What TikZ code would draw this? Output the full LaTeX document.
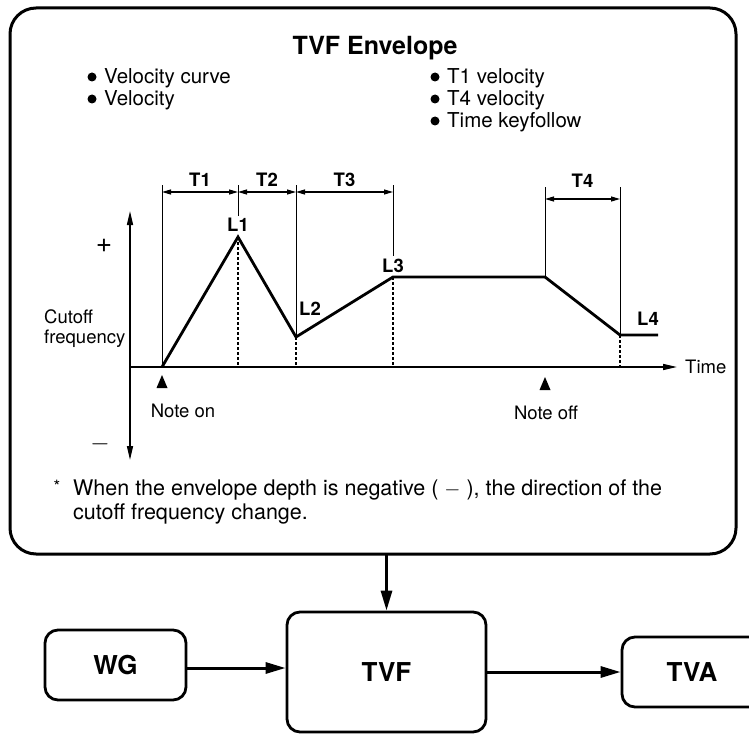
\documentclass[tikz,border=0pt]{standalone}
\usepackage{fontspec}
\setmainfont{TeX Gyre Heros}
\usetikzlibrary{arrows.meta}
\usetikzlibrary{positioning}
\tikzstyle{frame}=[draw,line width=3pt,rounded corners=26pt]
\tikzstyle{unit}=[draw,line width=2.8pt,rounded corners=13pt,font=\fontsize{26}{30}\selectfont\bfseries]
\tikzstyle{flow}=[line width=3pt,-{Triangle[length=20pt,width=11pt]}]
\tikzstyle{axis}=[line width=1.5pt,-{Triangle[length=14pt,width=6pt]}]
\tikzstyle{env}=[line width=2.8pt,line join=miter]
\tikzstyle{guide}=[line width=1pt]
\tikzstyle{drop}=[line width=1.6pt,dash pattern=on 3pt off 2pt]
\tikzstyle{span}=[line width=1.2pt,{Triangle[length=9pt,width=5pt]}-{Triangle[length=9pt,width=5pt]}]
\tikzstyle{txt}=[font=\fontsize{21.5}{24}\selectfont,inner sep=0pt]
\tikzstyle{item}=[font=\fontsize{20.5}{24}\selectfont,inner sep=0pt,anchor=base west]
\tikzstyle{small}=[font=\fontsize{18.5}{20}\selectfont,inner sep=0pt]
\tikzstyle{lbl}=[font=\fontsize{18.5}{20}\selectfont\bfseries,inner sep=0pt]
\begin{document}
\begin{tikzpicture}[x=1pt,y=-1pt]
	\useasboundingbox (0,0) rectangle (749,733);
	\draw[frame] (10,8) rectangle (736,554);
	\node[font=\fontsize{25}{30}\selectfont\bfseries,inner sep=0pt,anchor=base] (title) at (375,55) {TVF Envelope};
	\node[item] (vc)  at (104,84)  {Velocity curve};
	\node[item] (vel) at (104,106) {Velocity};
	\node[item] (t1v) at (447,84)  {T1 velocity};
	\node[item] (t4v) at (447,106) {T4 velocity};
	\node[item] (tkf) at (447,128) {Time keyfollow};
	\foreach \n in {vc,vel,t1v,t4v,tkf}
		\fill ([xshift=-12pt,yshift=7pt]\n.base west) circle (4.5pt);
	% envelope points
	\coordinate (o)  at (130,367);
	\coordinate (on) at (162,367);
	\coordinate (l1) at (238,237);
	\coordinate (l2) at (296,337);
	\coordinate (l3) at (393,277);
	\coordinate (off) at (545,277);
	\coordinate (l4) at (620,335);
	\coordinate (end) at (658,335);
	% axes
	\draw[axis] (o) -- (677,367) coordinate (tx);
	\draw[axis] (o) -- (130,211) coordinate (up);
	\draw[axis] (o) -- (130,460) coordinate (dn);
	\node[small,anchor=west] (time) at ([xshift=8pt]tx) {Time};
	\node[font=\fontsize{28}{28}\selectfont,inner sep=0pt] (plus) at (104,246) {+};
	\node[font=\fontsize{28}{28}\selectfont,inner sep=0pt] (minus) at (100,444) {$-$};
	\node[small,anchor=base west] (cut) at (44,323) {Cutoff};
	\node[small,anchor=base west] (freq) at (44,343) {frequency};
	% envelope
	\draw[env] (on) -- (l1) -- (l2) -- (l3) -- (off) -- (l4) -- (end);
	\foreach \p in {l1,l2,l3,l4} \draw[drop] (\p) -- (\p |- o);
	% time spans
	\draw[guide] (on) -- (162,185);
	\draw[guide] (238,216) -- (238,185);
	\draw[guide] (l2) -- (296,185);
	\draw[guide] (393,256) -- (393,185);
	\draw[guide] (off) -- (545,187);
	\draw[guide] (l4) -- (620,187);
	\draw[span] (162,192) -- node[lbl,above=5pt] (t1) {T1} (238,192);
	\draw[span] (238,192) -- node[lbl,above=5pt] (t2) {T2} (296,192);
	\draw[span] (296,192) -- node[lbl,above=5pt] (t3) {T3} (393,192);
	\draw[span] (545,199) -- node[lbl,above=11pt] (t4) {T4} (620,199);
	\node[lbl,above=5pt of l1] (L1) {L1};
	\node[lbl,anchor=base west] (L2) at (299,315) {L2};
	\node[lbl,anchor=base] (L3) at (393,272) {L3};
	\node[lbl,anchor=base west] (L4) at (637,325) {L4};
	% note on / off
	\fill (162,375) -- (167.5,388) -- (156.5,388) -- cycle;
	\fill (545,377) -- (550.5,390) -- (539.5,390) -- cycle;
	\node[small,anchor=base] (noteon) at (183,417) {Note on};
	\node[small,anchor=base] (noteoff) at (546,419) {Note off};
	% footnote
	\node[font=\fontsize{17}{17}\selectfont,inner sep=0pt] (star) at (57,486) {*};
	\node[txt,anchor=base west] (foot1) at (73,495) {When the envelope depth is negative ( $-$ ), the direction of the};
	\node[txt,anchor=base west] (foot2) at (73,519) {cutoff frequency change.};
	% signal flow
	\node[unit,minimum width=199pt,minimum height=120pt] (tvf) at (386.5,672) {TVF};
	\node[unit,minimum width=141pt,minimum height=70pt] (wg) at (115.5,665) {WG};
	\node[unit,minimum width=140pt,minimum height=70pt] (tva) at (692,672) {TVA};
	\draw[flow] (tvf |- 0,554) -- (tvf);
	\draw[flow] (wg.east |- 0,668) -- (tvf.west |- 0,668);
	\draw[flow] (tvf.east) -- (tva);
\end{tikzpicture}
\end{document}
